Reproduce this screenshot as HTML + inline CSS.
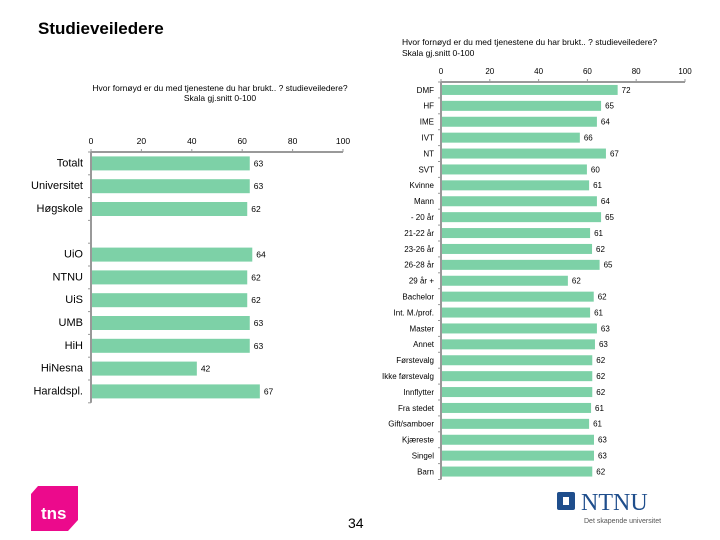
<!DOCTYPE html>
<html><head><meta charset="utf-8"><style>
body{margin:0;background:#fff;}
svg{display:block;font-family:"Liberation Sans",sans-serif;}
</style></head><body>
<svg id="s" width="720" height="540" viewBox="0 0 720 540">
<text x="38" y="34" font-size="17" font-weight="bold" fill="#000">Studieveiledere</text>
<text x="402" y="45" font-size="8.5" fill="#000">Hvor fornøyd er du med tjenestene du har brukt.. ? studieveiledere?</text>
<text x="402" y="56" font-size="8.5" fill="#000">Skala gj.snitt 0-100</text>
<text x="220" y="91" font-size="8.5" text-anchor="middle" fill="#000">Hvor fornøyd er du med tjenestene du har brukt.. ? studieveiledere?</text>
<text x="220" y="101" font-size="8.5" text-anchor="middle" fill="#000">Skala gj.snitt 0-100</text>
<g id="left"></g><g id="right"></g>
<g>
<path d="M38 486 L78 486 L78 520 L68 531 L31 531 L31 494 Z" fill="#ec0a8c"/>
<text x="41" y="519" font-size="17" font-weight="bold" fill="#fff">tns</text>
</g>
<text x="348" y="528" font-size="14" fill="#000">34</text>
<g>
<rect x="557" y="492" width="18" height="18" rx="2" fill="#1f4e8c"/>
<rect x="563" y="497" width="6" height="8" fill="#fff"/>
<text x="581" y="510" font-family="Liberation Serif,serif" font-size="24" fill="#1f4e8c">NTNU</text>
<text x="584" y="523" font-size="7" fill="#555">Det skapende universitet</text>
</g>
</svg>
<script>
const leftCats=["Totalt","Universitet","Høgskole","","UiO","NTNU","UiS","UMB","HiH","HiNesna","Haraldspl."];
const leftVals=[63,63,62,null,64,62,62,63,63,42,67];
const leftLabels=["63","63","62","","64","62","62","63","63","42","67"];
const rightCats=["DMF","HF","IME","IVT","NT","SVT","Kvinne","Mann","- 20 år","21-22 år","23-26 år","26-28 år","29 år +","Bachelor","Int. M./prof.","Master","Annet","Førstevalg","Ikke førstevalg","Innflytter","Fra stedet","Gift/samboer","Kjæreste","Singel","Barn"];
const rightVals=[72.4,65.6,63.9,56.9,67.6,59.8,60.7,63.9,65.6,61.1,61.9,65,52,62.6,61.1,63.9,63.1,62,62,62,61.5,60.7,62.7,62.7,62];
const rightLabels=["72","65","64","66","67","60","61","64","65","61","62","65","62","62","61","63","63","62","62","62","61","61","63","63","62"];
const ticks=[0,20,40,60,80,100];
const NS="http://www.w3.org/2000/svg";
function el(p,t,a){const e=document.createElementNS(NS,t);for(const k in a)e.setAttribute(k,a[k]);p.appendChild(e);return e;}
function chart(g,cats,vals,labels,o){
  const x=v=>o.x0+v*(o.x1-o.x0)/100;
  const y=i=>o.y0+(i+0.5)*o.band;
  const yEnd=o.y0+cats.length*o.band;
  let ax=el(g,'line',{x1:x(0),x2:x(100),y1:o.y0,y2:o.y0,stroke:'#999','stroke-width':2});
  
  
  let ay=el(g,'line',{x1:x(0),x2:x(0),y1:o.y0,y2:yEnd,stroke:'#999','stroke-width':2});
  
  
  ticks.forEach(t=>{
    el(g,'line',{x1:x(t),x2:x(t),y1:o.y0-3,y2:o.y0,stroke:'#999'});
    const tx=el(g,'text',{x:x(t),y:o.y0-8,'font-size':o.fs,'text-anchor':'middle'});
    tx.textContent=t;
    
    
  });
  for(let i=0;i<=cats.length;i++) el(g,'line',{x1:x(0)-3,x2:x(0),y1:o.y0+i*o.band,y2:o.y0+i*o.band,stroke:'#999'});
  cats.forEach((c,i)=>{
    const lb=el(g,'text',{x:x(0)-o.lpad,y:y(i)+o.fs*0.35,'font-size':o.cfs,'text-anchor':'end'});
    lb.textContent=c;
    
    
    if(vals[i]==null)return;
    const r=el(g,'rect',{x:x(0)+1,y:y(i)-o.bh/2,width:x(vals[i])-x(0)-1,height:o.bh,fill:'#7dd1a7'});
    
    
    const v=el(g,'text',{x:x(vals[i])+4,y:y(i)+o.fs*0.35,'font-size':o.fs});
    v.textContent=labels[i];
    
    
  });
}
chart(document.getElementById('left'),leftCats,leftVals,leftLabels,{x0:91,x1:343,y0:152,band:22.8,bh:14,fs:8.5,cfs:11,lpad:8});
chart(document.getElementById('right'),rightCats,rightVals,rightLabels,{x0:441,x1:685,y0:82,band:15.9,bh:10,fs:8,cfs:8,lpad:7});
</script>
</body></html>
